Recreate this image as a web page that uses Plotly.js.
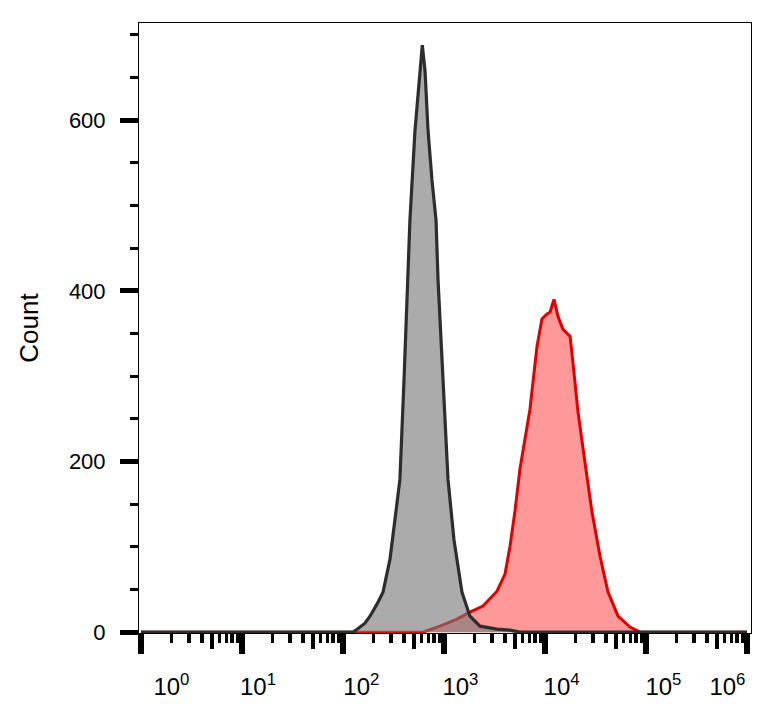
<!DOCTYPE html>
<html>
<head>
<meta charset="utf-8">
<script src="https://cdn.plot.ly/plotly-3.0.1.min.js"></script>
<style>
  html, body { margin: 0; padding: 0; background: #fff; }
  #chart { width: 777px; height: 718px; }
</style>
</head>
<body>
<div id="chart"></div>
<script>
// Fluorescence intensity (channel) values and event counts
const isotypeIntensity = [1, 126, 138, 165, 185, 217, 249, 292, 327, 366, 402, 441, 460, 516, 565, 610, 649, 695, 760, 834, 873, 977, 1096, 1256, 1346, 1507, 1807, 2270, 3350, 4498, 5649, 1000000];
const isotypeCount     = [0, 0, 3.5, 10.5, 18.7, 32.8, 46.9, 85.5, 132, 179, 296, 413, 483, 588, 647, 688, 658, 588, 530, 483, 413, 296, 179, 108, 85, 46.9, 18.7, 7, 3.5, 2.3, 0, 0];

const stainedIntensity = [1, 619, 912, 1346, 1807, 2432, 3350, 4018, 4498, 5047, 5649, 6339, 7096, 8337, 9333, 10471, 11220, 12274, 13459, 15066, 17701, 18923, 21232, 24889, 29174, 35075, 42073, 52845, 69502, 87297, 1000000];
const stainedCount     = [0, 0, 7, 15.2, 23.4, 30.5, 48, 68, 100, 142, 191, 226, 261, 335, 367, 373, 375, 390, 370, 355, 347, 316, 258, 199, 141, 89, 46.9, 18.7, 5.9, 0, 0];

// Axis ticks
const decadeTicks = [1, 10, 100, 1000, 10000, 100000, 1000000];
const minorTicks = [];
const midTicks = [];
[1, 10, 100, 1000, 10000, 100000].forEach(function (d) {
  [2, 3, 4, 6, 7, 8, 9].forEach(function (m) { minorTicks.push(m * d); });
  midTicks.push(5 * d);
});
const decadeLabels = ['10<sup>0</sup>', '10<sup>1</sup>', '10<sup>2</sup>', '10<sup>3</sup>', '10<sup>4</sup>', '10<sup>5</sup>', '10<sup>6</sup>'];
// where each decade label sits along the axis (the labels are offset from their ticks)
const labelAnchors = [2.0, 14.4, 152, 1455, 14590, 148900, 641000];

const yTitle = 'Count';

const xRange = [-0.02, 6.04];
const font = 'Liberation Sans, Arial, sans-serif';

const traces = [
  {
    x: stainedIntensity, y: stainedCount, type: 'scatter', mode: 'lines',
    fill: 'tozeroy', fillcolor: 'rgba(255,0,0,0.4)',
    line: { color: 'rgb(225,0,0)', width: 3 },
    hoverinfo: 'skip', showlegend: false
  },
  {
    x: isotypeIntensity, y: isotypeCount, type: 'scatter', mode: 'lines',
    fill: 'tozeroy', fillcolor: 'rgba(120,120,120,0.62)',
    line: { color: 'rgb(45,45,45)', width: 3.2 },
    hoverinfo: 'skip', showlegend: false
  },
  { x: [], y: [], xaxis: 'x2', type: 'scatter', showlegend: false, hoverinfo: 'skip' },
  { x: [], y: [], xaxis: 'x3', type: 'scatter', showlegend: false, hoverinfo: 'skip' },
  { x: [], y: [], xaxis: 'x4', type: 'scatter', showlegend: false, hoverinfo: 'skip' }
];

const baseX = {
  type: 'log', range: xRange, showgrid: false, zeroline: false,
  overlaying: 'x', anchor: 'y', side: 'bottom', showline: false,
  tickmode: 'array', showticklabels: false, ticks: 'outside', tickcolor: '#000'
};

const layout = {
  width: 777, height: 718,
  margin: { l: 139, r: 26, t: 23, b: 85, pad: 0 },
  paper_bgcolor: '#fff', plot_bgcolor: '#fff',
  font: { family: font, color: '#000' },
  showlegend: false,
  xaxis: {
    type: 'log', range: xRange, showgrid: false, zeroline: false,
    showline: true, mirror: true, linecolor: '#000', linewidth: 1,
    tickmode: 'array', tickvals: decadeTicks, showticklabels: false,
    ticks: 'outside', ticklen: 20, tickwidth: 6, tickcolor: '#000'
  },
  xaxis2: Object.assign({}, baseX, { tickvals: minorTicks, ticklen: 9, tickwidth: 3.5 }),
  xaxis3: Object.assign({}, baseX, { tickvals: midTicks, ticklen: 15, tickwidth: 4 }),
  xaxis4: Object.assign({}, baseX, {
    tickvals: labelAnchors, ticktext: decadeLabels, showticklabels: true,
    ticklen: 32, tickcolor: 'rgba(0,0,0,0)',
    tickfont: { family: font, size: 24, color: '#000' }
  }),
  yaxis: {
    range: [-1, 714], showgrid: false, zeroline: false,
    showline: true, mirror: true, linecolor: '#000', linewidth: 1,
    tickmode: 'array', tickvals: [0, 200, 400, 600],
    ticks: 'outside', ticklen: 18, tickwidth: 5, tickcolor: '#000',
    ticklabelstandoff: 10,
    tickfont: { family: font, size: 22, color: '#000' },
    minor: { tickvals: [50, 100, 150, 250, 300, 350, 450, 500, 550, 650, 700], ticks: 'outside', ticklen: 8, tickwidth: 3, tickcolor: '#000', showgrid: false },
    title: { text: yTitle, font: { family: font, size: 26, color: '#000' }, standoff: 22 }
  }
};

Plotly.newPlot('chart', traces, layout, { staticPlot: true, displayModeBar: false });
</script>
</body>
</html>
